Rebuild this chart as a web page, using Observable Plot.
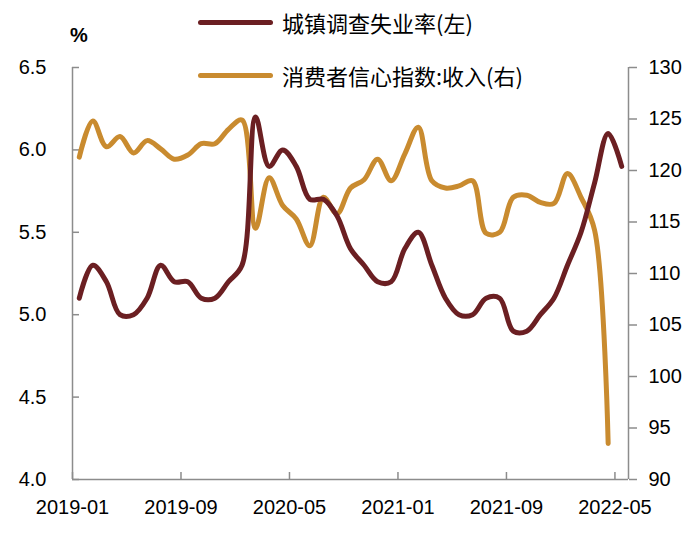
<!DOCTYPE html>
<html><head><meta charset="utf-8">
<script src="https://cdn.jsdelivr.net/npm/d3@7"></script>
<script src="https://cdn.jsdelivr.net/npm/@observablehq/plot@0.6"></script>
<style>
body{margin:0;background:#fff;}
#wrap{position:relative;width:700px;height:534px;}
.leg{position:absolute;left:198px;height:30px;display:flex;align-items:center;font-family:"Noto Sans CJK SC","Noto Sans",sans-serif;font-size:22px;color:#000;white-space:nowrap;}
.sw{width:75px;height:5px;border-radius:3px;margin-right:9px;}
.pct{position:absolute;left:70px;top:24px;font-family:"Liberation Sans",Arial,sans-serif;font-weight:bold;font-size:20px;}
</style></head>
<body><div id="wrap"></div>
<script>
const seriesNames = ["城镇调查失业率(左)", "消费者信心指数:收入(右)"];
const colors = ["#6B1F22", "#C98B2F"];
// monthly 2019-01 .. 2022-05
const unemployment = [5.1,5.3,5.2,5.0,5.0,5.1,5.3,5.2,5.2,5.1,5.1,5.2,
  5.3,6.2,5.9,6.0,5.9,5.7,5.7,5.6,5.4,5.3,5.2,5.2,
  5.4,5.5,5.3,5.1,5.0,5.0,5.1,5.1,4.9,4.9,5.0,5.1,
  5.3,5.5,5.8,6.1,5.9];
const incomeConfidence = [121.3,124.8,122.3,123.3,121.7,122.9,122.1,121.1,121.5,122.6,122.6,124.0,
  124.9,114.4,119.3,116.6,115.3,112.7,117.4,115.8,118.3,119.1,121.1,119.0,
  121.6,124.2,119.0,118.3,118.5,119.0,113.9,114.0,117.4,117.6,116.9,116.8,
  119.7,117.4,114.2,93.5];
const xTickIdx = [0,8,16,24,32,40];
const xTickLabels = ["2019-01","2019-09","2020-05","2021-01","2021-09","2022-05"];
const leftTicks = [4.0,4.5,5.0,5.5,6.0,6.5];
const rightTicks = [90,95,100,105,110,115,120,125,130];
const leftDomain = [4, 6.5], rightDomain = [90, 130], xDomain = [0, 41];

const toLeft = v => leftDomain[0] + (v - rightDomain[0]) / (rightDomain[1] - rightDomain[0]) * (leftDomain[1] - leftDomain[0]);
const toRight = v => rightDomain[0] + (v - leftDomain[0]) / (leftDomain[1] - leftDomain[0]) * (rightDomain[1] - rightDomain[0]);
const rows1 = unemployment.map((v, i) => ({x: i + 0.5, y: v}));
const rows2 = incomeConfidence.map((v, i) => ({x: i + 0.5, y: toLeft(v)}));

const W = 700, H = 534, mL = 72, mR = 72, mT = 67, mB = 55;
const innerW = W - mL - mR, innerH = H - mT - mB;
const axisGray = "#8c8c8c";

const chart = Plot.plot({
  width: W, height: H, marginLeft: mL, marginRight: mR, marginTop: mT, marginBottom: mB,
  style: {fontFamily: "'Liberation Sans', Arial, sans-serif", fontSize: "20px", color: "#000", background: "#fff", overflow: "visible"},
  x: {domain: xDomain, label: null},
  y: {domain: leftDomain, label: null},
  marks: [
    Plot.ruleY([leftDomain[0]], {stroke: axisGray, strokeWidth: 1.5}),
    Plot.ruleX(xDomain, {y1: leftDomain[0], y2: leftDomain[1], stroke: axisGray, strokeWidth: 1.5}),
    Plot.tickX(xTickIdx, {x: d => d, insetTop: innerH - 7, stroke: axisGray, strokeWidth: 1.5}),
    Plot.tickY(leftTicks, {y: d => d, insetRight: innerW - 7, stroke: axisGray, strokeWidth: 1.5}),
    Plot.axisX({ticks: xTickIdx, tickFormat: d => xTickLabels[xTickIdx.indexOf(d)], tickSize: 0, tickPadding: 20, fill: "#000", label: null}),
    Plot.axisY({anchor: "left", ticks: leftTicks, tickFormat: d => d.toFixed(1), tickSize: 0, tickPadding: 26, fill: "#000", label: null}),
    Plot.axisY({anchor: "right", ticks: rightTicks.map(toLeft), tickFormat: d => String(Math.round(toRight(d))), tickSize: 8, tickPadding: 12, stroke: axisGray, strokeWidth: 1.5, fill: "#000", label: null}),
    Plot.line(rows2, {x: "x", y: "y", curve: "catmull-rom", stroke: colors[1], strokeWidth: 5, strokeLinecap: "round", strokeLinejoin: "round"}),
    Plot.line(rows1, {x: "x", y: "y", curve: "catmull-rom", stroke: colors[0], strokeWidth: 5, strokeLinecap: "round", strokeLinejoin: "round"})
  ]
});
const wrap = document.getElementById("wrap");
wrap.appendChild(chart);
const pct = document.createElement("div");
pct.className = "pct"; pct.textContent = "%";
wrap.appendChild(pct);
const legTops = [7, 60];
seriesNames.forEach((name, i) => {
  const d = document.createElement("div");
  d.className = "leg"; d.style.top = legTops[i] + "px";
  const sw = document.createElement("span");
  sw.className = "sw"; sw.style.background = colors[i];
  const t = document.createElement("span"); t.textContent = name;
  d.appendChild(sw); d.appendChild(t);
  wrap.appendChild(d);
});
</script></body></html>
